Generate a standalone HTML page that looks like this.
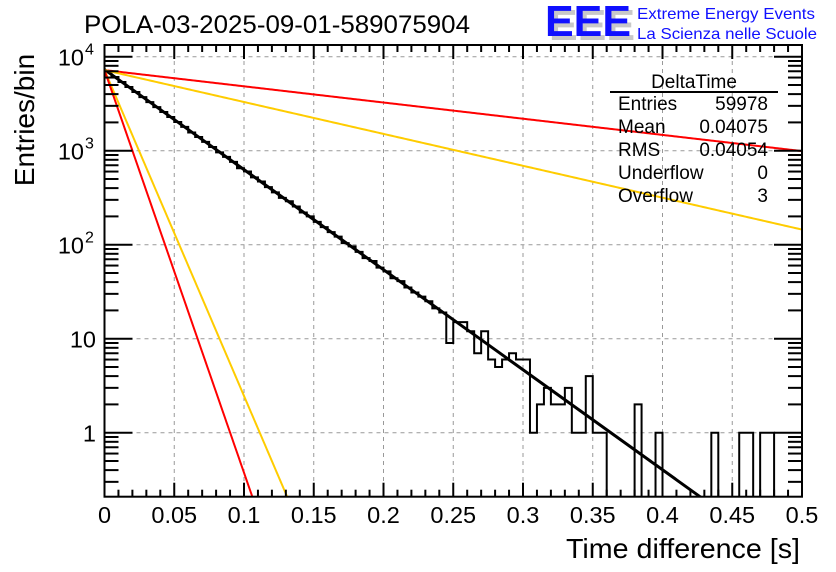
<!DOCTYPE html>
<html><head><meta charset="utf-8"><style>
body{margin:0;background:#fff}
svg{display:block;font-family:"Liberation Sans",sans-serif}
</style></head><body>
<svg id="c" width="836" height="572" viewBox="0 0 836 572">
<defs><clipPath id="pc"><rect x="104.5" y="45" width="697.5" height="451.7"/></clipPath></defs>
<rect width="836" height="572" fill="#fff"/>
<text x="84" y="33" font-size="25" textLength="386" lengthAdjust="spacingAndGlyphs">POLA-03-2025-09-01-589075904</text>
<g>
<text x="549" y="40" font-size="44" font-weight="bold" fill="#c8c8c8" textLength="86" lengthAdjust="spacingAndGlyphs">EEE</text>
<text x="545" y="36" font-size="44" font-weight="bold" fill="#1010ff" textLength="86" lengthAdjust="spacingAndGlyphs">EEE</text>
<text x="637" y="19" font-size="16" fill="#1010ff" textLength="178" lengthAdjust="spacingAndGlyphs">Extreme Energy Events</text>
<text x="637" y="39" font-size="16" fill="#1010ff" textLength="180" lengthAdjust="spacingAndGlyphs">La Scienza nelle Scuole</text>
</g>
<g id="grid"></g>
<g id="marks" clip-path="url(#pc)"></g>
<g id="axes"></g>
<g font-size="19">
<text x="694" y="88" text-anchor="middle">DeltaTime</text>
<line x1="610" y1="92" x2="778" y2="92" stroke="#000" stroke-width="2"/>
<text x="618" y="110">Entries</text><text x="768" y="110" text-anchor="end">59978</text>
<text x="618" y="133">Mean</text><text x="768" y="133" text-anchor="end">0.04075</text>
<text x="618" y="156">RMS</text><text x="768" y="156" text-anchor="end">0.04054</text>
<text x="618" y="179">Underflow</text><text x="768" y="179" text-anchor="end">0</text>
<text x="618" y="202">Overflow</text><text x="768" y="202" text-anchor="end">3</text>
</g>
<text x="800" y="558" font-size="28" text-anchor="end" textLength="234" lengthAdjust="spacingAndGlyphs">Time difference [s]</text>
<text transform="translate(34,120) rotate(-90)" font-size="28" text-anchor="middle">Entries/bin</text>
</svg>
<script>
const binCounts=[6870,6080,5380,4760,4210,3720,3290,2910,2580,2280,2020,1790,1560,1400,1240,1095,960,860,760,650,600,520,470,410,360,315,290,255,220,200,175,154,136,122,104,96,84,72,67,57,52,44,41,35,31,28,25,21,19,9,15,15,12,7,12,6,5,6,7,6,6,1,2,3,2,2,3,1,1,4,1,1,0,0,0,0,2,0,0,1,0,0,0,0,0,0,0,1,0,0,0,1,1,0,1,1,0,0,0,0];
const binWidth=0.005;
const curveAmps=[7300,7200,7200,7200,7200];
const curveTaus=[0.0408,0.252,0.128,0.01253,0.01014];
const curveColors=["#000","#ff0000","#ffcc00","#ffcc00","#ff0000"];
const xTicks=[0,0.05,0.1,0.15,0.2,0.25,0.3,0.35,0.4,0.45,0.5];
const xTickLabels=["0","0.05","0.1","0.15","0.2","0.25","0.3","0.35","0.4","0.45","0.5"];
const yDecades=[0,1,2,3,4];
const yTickBase=["1","10","10","10","10"];
const yTickExp=["","","2","3","4"];
const X0=104.5,X1=802,YT=45,YB=496.7,Y1=432.7,DEC=94;
const sx=t=>X0+(X1-X0)*t/0.5;
const sy=v=>v<=0?YB+5:Y1-DEC*Math.log10(v);
const NS='http://www.w3.org/2000/svg';
function mk(tag,at,par){const e=document.createElementNS(NS,tag);for(const k in at)e.setAttribute(k,at[k]);par.appendChild(e);return e;}
const grid=document.getElementById('grid'),marks=document.getElementById('marks'),axes=document.getElementById('axes');
xTicks.slice(1,-1).forEach(t=>{const l=mk('line',{x1:sx(t),x2:sx(t),y1:YT,y2:YB,stroke:'#999','stroke-dasharray':'4,4','stroke-width':1},grid);

});
yDecades.forEach(d=>{const y=sy(Math.pow(10,d));const l=mk('line',{x1:X0,x2:X1,y1:y,y2:y,stroke:'#999','stroke-dasharray':'4,4','stroke-width':1},grid);

});
let d='M'+sx(0)+','+(YB+5);
binCounts.forEach((v,i)=>{const y=sy(v);d+=' L'+sx(i*binWidth)+','+y+' L'+sx((i+1)*binWidth)+','+y;});
d+=' L'+sx(binCounts.length*binWidth)+','+(YB+5);
const h=mk('path',{d:d,fill:'none',stroke:'#000','stroke-width':2},marks);


curveAmps.forEach((A,k)=>{let p='';for(let j=0;j<=400;j++){const t=0.5*j/400;const v=A*Math.exp(-t/curveTaus[k]);p+=(j?' L':'M')+sx(t).toFixed(2)+','+sy(v).toFixed(2);if(sy(v)>YB+10)break;}
const c=mk('path',{d:p,fill:'none',stroke:curveColors[k],'stroke-width':k==0?3:2},marks);

});
const f=mk('rect',{x:X0,y:YT,width:X1-X0,height:YB-YT,fill:'none',stroke:'#000','stroke-width':2},axes);


for(let i=0;i<=50;i++){const t=i*0.01,x=sx(t),len=(i%5==0)?14:7;
mk('line',{x1:x,x2:x,y1:YB,y2:YB-len,stroke:'#000','stroke-width':2},axes);
mk('line',{x1:x,x2:x,y1:YT,y2:YT+len,stroke:'#000','stroke-width':2},axes);}
xTicks.forEach((t,i)=>{const tx=mk('text',{x:sx(t),y:523,'font-size':23.5,'text-anchor':'middle'},axes);tx.textContent=xTickLabels[i];

});
for(let dd=-1;dd<=4;dd++){for(let m=1;m<=9;m++){const v=m*Math.pow(10,dd);const y=sy(v);if(y<YT||y>YB)continue;const len=m==1?28:14;
mk('line',{x1:X0,x2:X0+len,y1:y,y2:y,stroke:'#000','stroke-width':2},axes);
mk('line',{x1:X1,x2:X1-len,y1:y,y2:y,stroke:'#000','stroke-width':2},axes);}}
yDecades.forEach((dd,i)=>{const y=sy(Math.pow(10,dd));const g=mk('g',{},axes);


if(yTickExp[i]){const b=mk('text',{x:84,y:y+9,'font-size':23.5,'text-anchor':'end'},g);b.textContent=yTickBase[i];
const e=mk('text',{x:85,y:y-2,'font-size':16,'text-anchor':'start'},g);e.textContent=yTickExp[i];}
else{const b=mk('text',{x:96,y:y+9,'font-size':23.5,'text-anchor':'end'},g);b.textContent=yTickBase[i];}});
</script>
</body></html>
